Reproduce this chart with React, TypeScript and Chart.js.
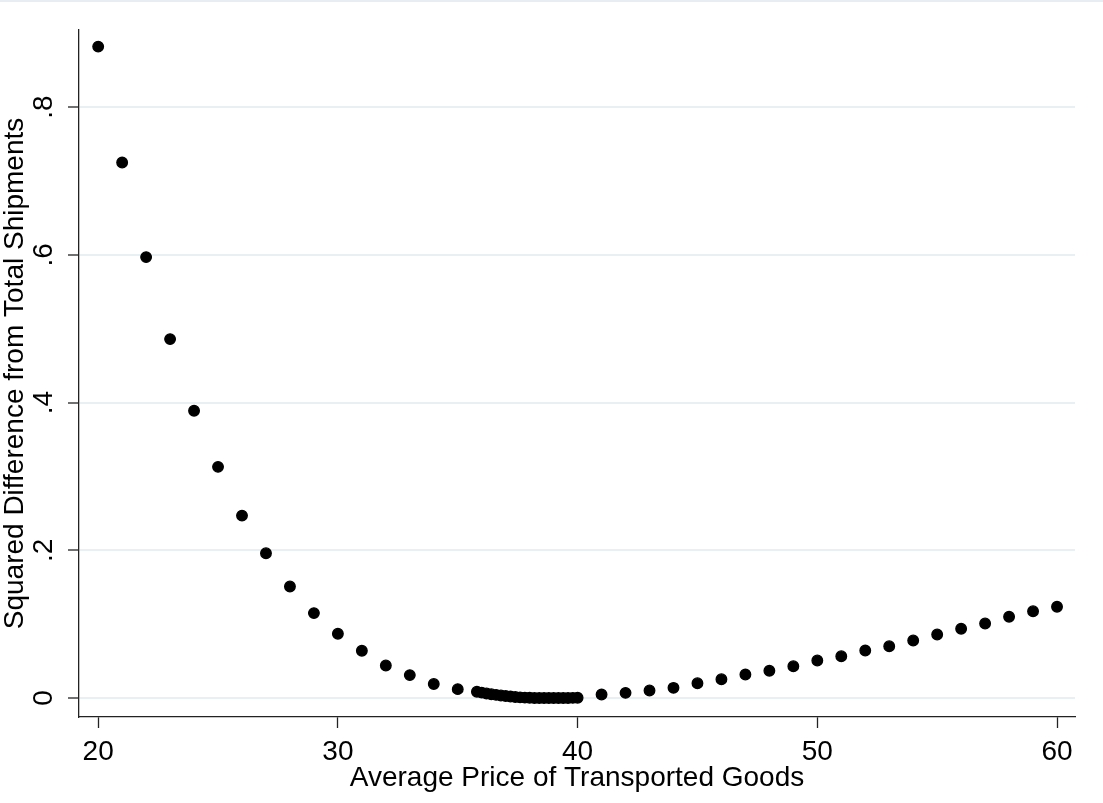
import React, { useEffect, useRef } from "react";
import { Chart, registerables } from "chart.js";

Chart.register(...registerables);

// Average price of transported goods (x)
const priceX: number[] = [
  20, 21, 22, 23, 24, 25, 26, 27, 28, 29, 30, 31, 32, 33, 34, 35,
  35.8, 36.0, 36.2, 36.4, 36.6, 36.8, 37.0, 37.2, 37.4, 37.6, 37.8,
  38.0, 38.2, 38.4, 38.6, 38.8, 39.0, 39.2, 39.4, 39.6, 39.8, 40.0,
  41, 42, 43, 44, 45, 46, 47, 48, 49, 50, 51, 52, 53, 54, 55, 56, 57, 58, 59, 60,
];

// Squared difference from total shipments (y)
const sqDiff: number[] = [
  0.882, 0.725, 0.597, 0.486, 0.389, 0.313, 0.247, 0.196, 0.151, 0.115, 0.087, 0.064, 0.044, 0.031, 0.019, 0.012,
  0.0085, 0.0073, 0.0062, 0.0052, 0.0043, 0.0034, 0.0027, 0.002, 0.0014, 0.0009, 0.0005,
  0.0003, 0.0001, 0.0, 0.0, 0.0, 0.0, 0.0, 0.0001, 0.0001, 0.0002, 0.0003,
  0.0047, 0.007, 0.0102, 0.0138, 0.02, 0.0255, 0.0318, 0.037, 0.043, 0.0508, 0.0566, 0.0643, 0.0701, 0.0779, 0.086, 0.0937, 0.1009, 0.11, 0.1175, 0.1235,
];

const xTickValues: number[] = [20, 30, 40, 50, 60];
const xTickLabels: string[] = ["20", "30", "40", "50", "60"];
const yTickValues: number[] = [0, 0.2, 0.4, 0.6, 0.8];
const yTickLabels: string[] = ["0", ".2", ".4", ".6", ".8"];

const xTitle = "Average Price of Transported Goods";
const yTitle = "Squared Difference from Total Shipments";

const FONT_FAMILY = "'Liberation Sans', Arial, Helvetica, sans-serif";

export default function App() {
  const canvasRef = useRef<HTMLCanvasElement | null>(null);

  useEffect(() => {
    if (!canvasRef.current) return;
    const points = priceX.map((x, i) => ({ x, y: sqDiff[i] }));

    const topLine = {
      id: "topLine",
      afterDraw(chart: any) {
        const ctx = chart.ctx;
        ctx.save();
        ctx.fillStyle = "#e7edf2";
        ctx.fillRect(0, 0, chart.width, 2);
        ctx.restore();
      },
    };

    const chart = new Chart(canvasRef.current, {
      type: "scatter",
      data: {
        datasets: [
          {
            data: points,
            backgroundColor: "#000000",
            borderColor: "#000000",
            pointRadius: 5.3,
            pointBorderWidth: 1.3,
            pointHoverRadius: 5.3,
            showLine: false,
          },
        ],
      },
      options: {
        animation: false,
        responsive: false,
        devicePixelRatio: 1,
        layout: { padding: { top: 30, right: 28, left: 0, bottom: 0 } },
        plugins: {
          legend: { display: false },
          tooltip: { enabled: false },
        },
        scales: {
          x: {
            type: "linear",
            position: "bottom",
            min: 19.2,
            max: 60.75,
            afterBuildTicks: (scale: any) => {
              scale.ticks = xTickValues.map((v) => ({ value: v }));
            },
            afterFit: (scale: any) => {
              scale.height = 86;
            },
            grid: {
              drawOnChartArea: false,
              drawTicks: true,
              tickLength: 11,
              tickColor: "#222222",
              tickWidth: 1.3,
            },
            border: { display: true, color: "#222222", width: 1.3 },
            ticks: {
              color: "#000000",
              padding: 10,
              maxRotation: 0,
              minRotation: 0,
              font: { family: FONT_FAMILY, size: 28, lineHeight: 1 },
              callback: (value: any) => {
                const i = xTickValues.indexOf(Number(value));
                return i >= 0 ? xTickLabels[i] : "";
              },
            },
            title: {
              display: true,
              text: xTitle,
              color: "#000000",
              font: { family: FONT_FAMILY, size: 28, lineHeight: 1 },
              padding: { top: 0, bottom: 11 },
            },
          },
          y: {
            type: "linear",
            position: "left",
            min: -0.0257,
            max: 0.9045,
            afterBuildTicks: (scale: any) => {
              scale.ticks = yTickValues.map((v) => ({ value: v }));
            },
            afterFit: (scale: any) => {
              scale.width = 79;
            },
            grid: {
              drawOnChartArea: true,
              drawTicks: true,
              color: "#e8f0f3",
              lineWidth: 2,
              tickLength: 11,
              tickColor: "#222222",
              tickWidth: 1.3,
            },
            border: { display: true, color: "#222222", width: 1.3 },
            ticks: {
              color: "#000000",
              padding: 12,
              minRotation: 90,
              maxRotation: 90,
              crossAlign: "center",
              font: { family: FONT_FAMILY, size: 28, lineHeight: 1 },
              callback: (value: any) => {
                const i = yTickValues.findIndex((v) => Math.abs(v - Number(value)) < 1e-9);
                return i >= 0 ? yTickLabels[i] : "";
              },
            },
            title: {
              display: true,
              text: yTitle,
              color: "#000000",
              font: { family: FONT_FAMILY, size: 28, lineHeight: 1 },
              padding: { top: 1, bottom: 0 },
            },
          },
        },
      },
      plugins: [topLine],
    } as any);

    return () => {
      chart.destroy();
    };
  }, []);

  return (
    <div style={{ position: "absolute", left: 0, top: 0, width: 1103, height: 803, background: "#ffffff" }}>
      <canvas ref={canvasRef} width={1103} height={803} style={{ display: "block", width: 1103, height: 803 }} />
    </div>
  );
}
